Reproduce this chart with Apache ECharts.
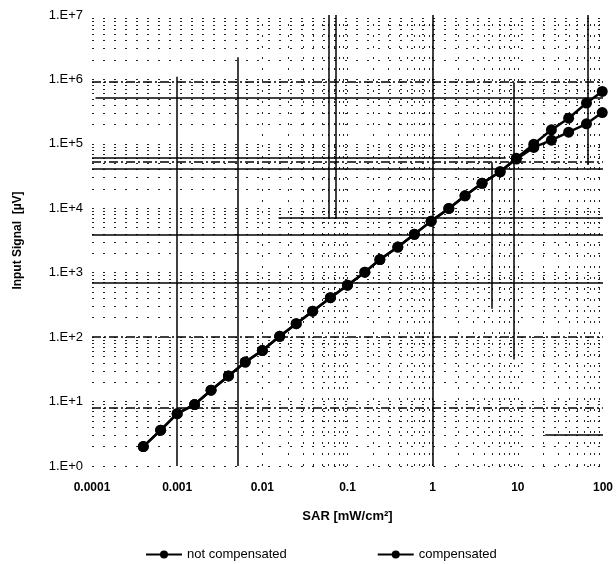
<!DOCTYPE html>
<html>
<head>
<meta charset="utf-8">
<script src="https://cdn.jsdelivr.net/npm/echarts@6/dist/echarts.min.js"></script>
<style>
  html, body { margin: 0; padding: 0; background: #fff; }
  #chart { width: 616px; height: 564px; }
</style>
</head>
<body>
<div id="chart"></div>
<script>
// SAR [mW/cm2]
var sarValues = [0.0004, 0.00064, 0.001, 0.0016, 0.0025, 0.004, 0.0063, 0.01, 0.016, 0.025,
    0.039, 0.063, 0.1, 0.16, 0.24, 0.39, 0.61, 0.96, 1.55, 2.4, 3.8, 6.2, 9.6, 15.4, 24.8, 39.5, 64, 98];
// Input signal [uV]
var notCompValues = [2.0, 3.6, 6.5, 9.0, 15, 25, 41, 62, 103, 162, 253, 409, 640, 1020, 1600, 2500,
    3940, 6320, 9930, 15600, 24400, 36900, 58000, 88000, 114000, 152000, 205000, 306000];
var compValues = [2.0, 3.6, 6.5, 9.0, 15, 25, 41, 62, 103, 162, 253, 409, 640, 1020, 1600, 2500,
    3940, 6320, 9930, 15600, 24400, 36900, 60000, 99000, 165000, 250000, 430000, 650000];

var xDecades = [-4, -3, -2, -1, 0, 1];
var yDecades = [0, 1, 2, 3, 4, 5, 6];
var minorSteps = [1, 2, 3, 4, 5, 6, 7, 8, 9];

// solid rules that show in the scanned grid: [x, yFrom, yTo] and [y, xFrom, xTo]
var ruleX = [[0.001, 1, 1.1e6], [0.0052, 1, 2.2e6], [0.061, 6800, 1e7], [0.072, 6800, 1e7],
    [1, 1, 1e7], [5, 275, 52000], [8.9, 45, 9e5], [67, 47000, 1e7]];
var ruleY = [[5.2e5, 0.00011, 100], [6e4, 0.0001, 7.2], [4.1e4, 0.0001, 100], [7200, 0.0155, 100],
    [3900, 0.0001, 100], [690, 0.0001, 100], [3.1, 21, 100]];
var dashY = [9.3e5, 5.3e4, 100, 8.1];

function pairs(xs, ys) {
    var d = [];
    for (var i = 0; i < xs.length; i++) d.push([xs[i], ys[i]]);
    return d;
}

var gridLines = [];
var dotted = { color: '#222', width: 1, type: [2, 9] };
xDecades.forEach(function (e) {
    minorSteps.forEach(function (m) {
        gridLines.push({ xAxis: m * Math.pow(10, e), lineStyle: dotted });
    });
});
yDecades.forEach(function (e) {
    minorSteps.forEach(function (m) {
        gridLines.push({ yAxis: m * Math.pow(10, e), lineStyle: dotted });
    });
});

var rules = [];
ruleX.forEach(function (r) {
    rules.push([{ coord: [r[0], r[1]], lineStyle: { color: '#000', width: 1.5, type: 'solid' } }, { coord: [r[0], r[2]] }]);
});
ruleY.forEach(function (r) {
    rules.push([{ coord: [r[1], r[0]], lineStyle: { color: '#000', width: 1.5, type: 'solid' } }, { coord: [r[2], r[0]] }]);
});
dashY.forEach(function (y) {
    rules.push([{ coord: [0.0001, y], lineStyle: { color: '#000', width: 1.5, type: [9, 3, 2, 3] } }, { coord: [100, y] }]);
});

var chart = echarts.init(document.getElementById('chart'));

var option = {
    animation: false,
    backgroundColor: '#fff',
    textStyle: { fontFamily: 'Liberation Sans', color: '#000' },
    grid: { left: 92, right: 11, top: 15, bottom: 98 },
    legend: {
        data: ['not compensated', 'compensated'],
        left: 140, top: 543,
        itemWidth: 36, itemHeight: 10, itemGap: 90,
        textStyle: { fontSize: 13, color: '#000' }
    },
    xAxis: {
        type: 'log', logBase: 10, min: 0.0001, max: 100, splitNumber: 6,
        name: 'SAR [mW/cm²]', nameLocation: 'middle', nameGap: 44,
        nameTextStyle: { fontSize: 13, fontWeight: 'bold', color: '#000' },
        axisLine: { show: false }, axisTick: { show: false }, splitLine: { show: false },
        axisLabel: {
            margin: 16, fontSize: 12, fontWeight: 'bold', color: '#000',
            formatter: function (v) {
                var e = Math.round(Math.log10(v));
                return e < 0 ? Math.pow(10, e).toFixed(-e) : String(Math.pow(10, e));
            }
        }
    },
    yAxis: {
        type: 'log', logBase: 10, min: 1, max: 1e7, splitNumber: 7,
        name: 'Input Signal  [µV]', nameLocation: 'middle', nameGap: 68, nameRotate: 90,
        nameTextStyle: { fontSize: 12, fontWeight: 'bold', color: '#000' },
        axisLine: { show: false }, axisTick: { show: false }, splitLine: { show: false },
        axisLabel: {
            margin: 9, fontSize: 13, color: '#000',
            formatter: function (v) { return '1.E+' + Math.round(Math.log10(v)); }
        }
    },
    series: [
        {
            name: 'not compensated', type: 'line',
            data: pairs(sarValues, notCompValues),
            symbol: 'circle', symbolSize: 11,
            lineStyle: { color: '#000', width: 2.5 },
            itemStyle: { color: '#000' },
            z: 5,
            markLine: {
                silent: true, animation: false, symbol: ['none', 'none'],
                label: { show: false }, emphasis: { disabled: true },
                data: gridLines.concat(rules)
            }
        },
        {
            name: 'compensated', type: 'line',
            data: pairs(sarValues, compValues),
            symbol: 'circle', symbolSize: 11,
            lineStyle: { color: '#000', width: 2.5 },
            itemStyle: { color: '#000' },
            z: 5
        }
    ]
};

chart.setOption(option);
</script>
</body>
</html>
